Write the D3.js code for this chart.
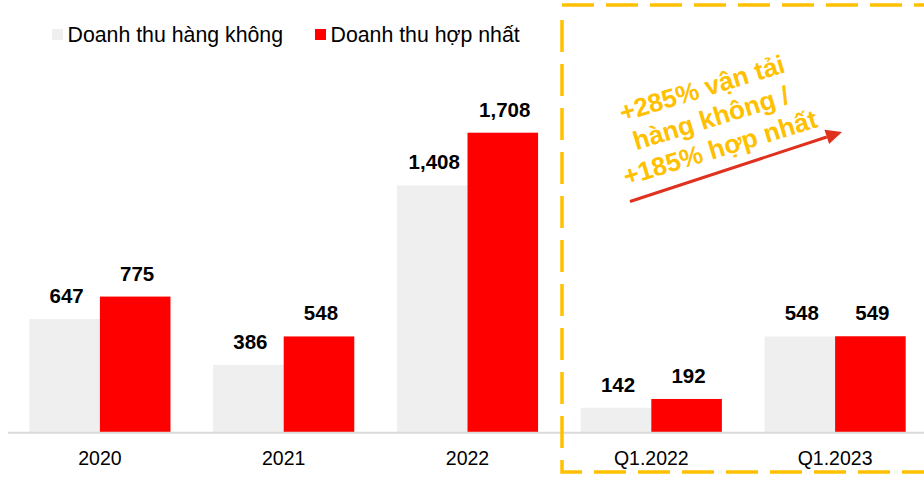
<!DOCTYPE html>
<html>
<head>
<meta charset="utf-8">
<script src="https://cdn.jsdelivr.net/npm/d3@7"></script>
<style>
  html, body { margin: 0; padding: 0; background: #fff; }
  svg { display: block; font-family: "Liberation Sans", Arial, sans-serif; }
</style>
</head>
<body>
<svg id="chart" width="924" height="479"></svg>
<script>
// ---- data ----
const categories = ["2020", "2021", "2022", "Q1.2022", "Q1.2023"];
const seriesNames = ["Doanh thu hàng không", "Doanh thu hợp nhất"];
const airlineRevenue = [647, 386, 1408, 142, 548];
const consolidatedRevenue = [775, 548, 1708, 192, 549];
const annotationLines = ["+285% vận tải", "hàng không /", "+185% hợp nhất"];

const colors = ["#efefef", "#ff0000"];
const fmt = d3.format(",");

const svg = d3.select("#chart");

const x = d3.scaleBand().domain(categories).range([8, 927]).paddingInner(0.232).paddingOuter(0.116);
const xs = d3.scaleBand().domain([0, 1]).range([0, x.bandwidth()]).padding(0);
const y = d3.scaleLinear().domain([0, 1708]).range([432.7, 132.7]);

const rows = categories.map((c, i) => ({ cat: c, vals: [airlineRevenue[i], consolidatedRevenue[i]] }));

// bars
const g = svg.append("g");
const groups = g.selectAll("g.grp").data(rows).join("g")
  .attr("class", "grp")
  .attr("transform", d => `translate(${x(d.cat)},0)`);

groups.selectAll("rect").data(d => d.vals.map((v, k) => ({ v, k }))).join("rect")
  .attr("x", d => xs(d.k))
  .attr("width", xs.bandwidth())
  .attr("y", d => y(d.v))
  .attr("height", d => y(0) - y(d.v))
  .attr("fill", d => colors[d.k]);

groups.selectAll("text.val").data(d => d.vals.map((v, k) => ({ v, k }))).join("text")
  .attr("class", "val")
  .attr("x", d => xs(d.k) + xs.bandwidth() / 2 + 2)
  .attr("y", d => y(d.v) - 16)
  .attr("text-anchor", "middle")
  .attr("font-size", 20.5)
  .attr("font-weight", "bold")
  .attr("fill", "#000")
  .text(d => fmt(d.v));

// axis
const axis = d3.axisBottom(x).tickSize(0).tickPadding(0);
const ax = svg.append("g").attr("transform", `translate(0,${y(0)})`).call(axis);
ax.select(".domain").attr("d", `M8,0H924`).attr("stroke", "#d9d9d9").attr("stroke-width", 2);
ax.selectAll(".tick text")
  .attr("y", 32)
  .attr("dy", 0)
  .attr("font-size", 19.5)
  .attr("font-family", "'Liberation Sans', Arial, sans-serif")
  .attr("fill", "#000");

// legend
const legendPos = [{ sx: 52, tx: 67.5 }, { sx: 315, tx: 330.5 }];
const lg = svg.append("g");
seriesNames.forEach((name, k) => {
  lg.append("rect").attr("x", legendPos[k].sx).attr("y", 29).attr("width", 11).attr("height", 11).attr("fill", colors[k]);
  lg.append("text").attr("x", legendPos[k].tx).attr("y", 41.7)
    .attr("font-size", 21.3).attr("fill", "#000").text(name);
});

// dashed highlight frame
const gold = "#ffc000";
svg.append("path").attr("d", "M562,5H930")
  .attr("fill", "none").attr("stroke", gold).attr("stroke-width", 3.5).attr("stroke-dasharray", "32 12");
svg.append("path").attr("d", "M562,20V472H930")
  .attr("fill", "none").attr("stroke", gold).attr("stroke-width", 3.5).attr("stroke-dasharray", "32 12");

// annotation text
const ann = svg.append("g").attr("transform", "translate(711,118) rotate(-17)");
ann.selectAll("text").data(annotationLines).join("text")
  .attr("x", 0)
  .attr("y", (d, i) => (i - 1) * 31 + 9)
  .attr("text-anchor", "middle")
  .attr("font-size", 26)
  .attr("font-weight", "bold")
  .attr("fill", gold)
  .text(d => d);

// arrow
const arrowColor = "#e0301e";
const x0 = 630, y0 = 201.5, x1 = 842, y1 = 132;
const ang = Math.atan2(y1 - y0, x1 - x0);
const headLen = 16, headW = 7.5;
const bx = x1 - headLen * Math.cos(ang), by = y1 - headLen * Math.sin(ang);
svg.append("line").attr("x1", x0).attr("y1", y0).attr("x2", bx).attr("y2", by)
  .attr("stroke", arrowColor).attr("stroke-width", 3);
const px = -Math.sin(ang), py = Math.cos(ang);
svg.append("path")
  .attr("d", `M${x1},${y1}L${bx + px * headW},${by + py * headW}L${bx - px * headW},${by - py * headW}Z`)
  .attr("fill", arrowColor);
</script>
</body>
</html>
